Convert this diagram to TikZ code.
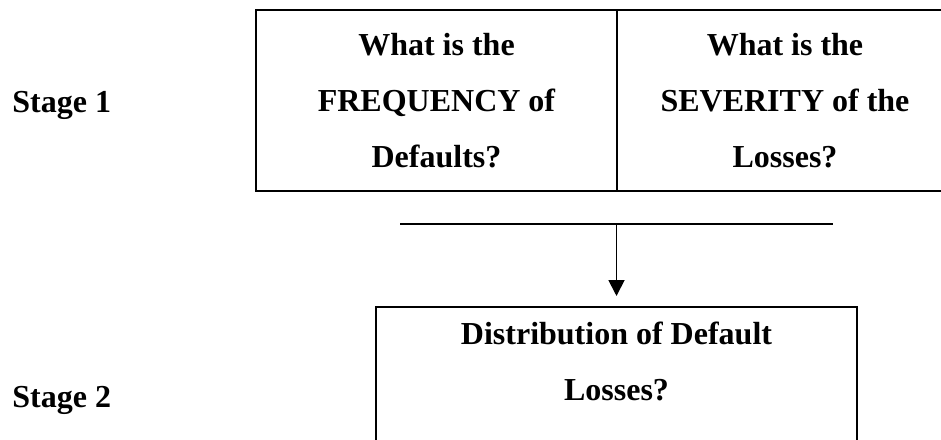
\documentclass[tikz,border=0pt]{standalone}
\usepackage{fontspec}
\setmainfont{Liberation Serif}
\usetikzlibrary{arrows.meta}

\begin{document}
\begin{tikzpicture}[x=0.5pt,y=-0.5pt,
		every node/.append style={font=\fontsize{16}{28}\selectfont\bfseries},
		cell/.style={draw, line width=1pt, minimum width=180.5pt, minimum height=90.5pt, align=center, inner sep=0pt},
		stagelabel/.style={anchor=base west, inner sep=0pt}]
		\useasboundingbox (0,0) rectangle (941,439);
		\clip (0,0) rectangle (941,439);
		% stage 1: the two questions side by side
		\node [stagelabel] (stage1) at (12,112) {Stage 1};
		\node [cell] (freq) at (436.5,100.5) {What is the\\FREQUENCY of\\Defaults?};
		\node [cell, minimum width=168pt] (sev) at (785,100.5) {What is the\\SEVERITY of the\\Losses?};
		% joining bar and arrow down
		\coordinate (barL) at (400,224);
		\coordinate (barR) at (833,224);
		\coordinate (split) at (616.5,224);
		\draw [line width=0.8pt] (barL) -- (barR);
		% stage 2: the combined result
		\node [stagelabel] (stage2) at (12,407) {Stage 2};
		\node [cell, minimum width=240.5pt, minimum height=95pt, anchor=north] (dist) at (616.5,306) {};
		\node [align=center] (distlabel) at (616.5,361) {Distribution of Default\\Losses?};
		\draw [line width=0.9pt, -{Triangle[width=8pt,length=8pt]}, shorten >=5pt] (split) -- (dist.north);
\end{tikzpicture}
\end{document}
